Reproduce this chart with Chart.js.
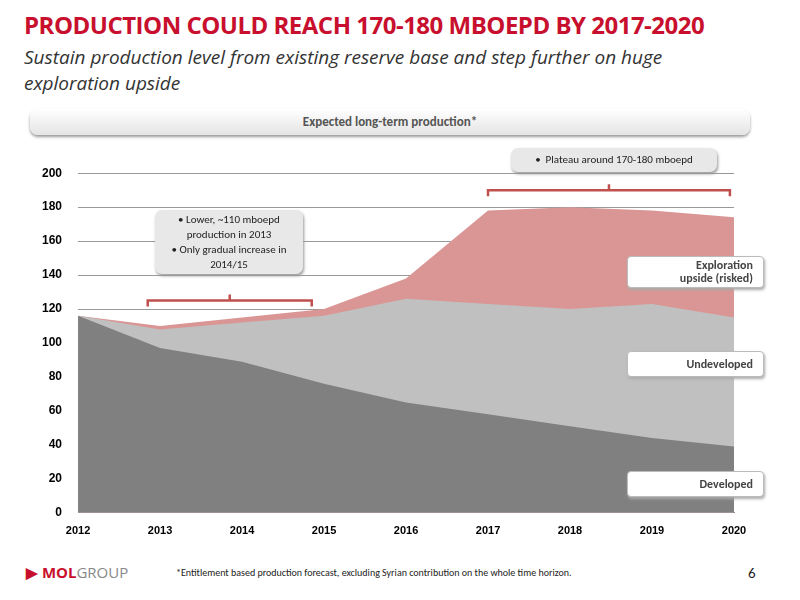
<!DOCTYPE html>
<html><head><meta charset="utf-8">
<script src="https://cdn.jsdelivr.net/npm/chart.js@4"></script>
<style>
body{margin:0;width:800px;height:600px;background:#fff;font-family:Calibri,Carlito,"Open Sans",sans-serif;position:relative;overflow:hidden}
.t1{position:absolute;left:24px;top:8px;font-size:24px;font-weight:bold;color:#c8102e;font-family:"Open Sans",sans-serif;letter-spacing:-0.5px}
.t2{position:absolute;left:24px;top:44px;font-size:19px;font-style:italic;color:#333;line-height:26px;width:720px;font-family:"Open Sans",sans-serif}
.band{position:absolute;left:30px;top:109px;width:720px;height:26px;border-radius:8px;background:linear-gradient(#fff,#e4e4e4);box-shadow:0 2px 3px #999;text-align:center;font-size:13px;font-weight:bold;color:#555;line-height:26px}
.box{position:absolute;background:#e8e8e8;border-radius:7px;box-shadow:1px 2px 3px #999;font-size:11px;color:#222;text-align:center;line-height:15px}
.lab{position:absolute;background:#fff;border:1px solid #bbb;border-radius:4px;box-shadow:1px 2px 3px #aaa;font-size:12px;font-weight:bold;color:#444;text-align:right;padding:2px 10px;line-height:13px}
#wrap{position:absolute;left:20px;top:150px;width:760px;height:392px}
.foot{position:absolute;left:176px;top:566px;font-size:10px;color:#222}
.logo{position:absolute;left:26px;top:562px;font-size:15px;font-weight:bold;color:#c8102e;font-family:"Open Sans",sans-serif}
.logo span{color:#888;font-weight:normal}
.pg{position:absolute;left:748px;top:564px;font-size:15px;color:#222}
</style></head><body>
<div class="t1">PRODUCTION COULD REACH 170-180 MBOEPD BY 2017-2020</div>
<div class="t2">Sustain production level from existing reserve base and step further on huge exploration upside</div>
<div class="band">Expected long-term production*</div>
<div id="wrap"><canvas id="c"></canvas></div>
<div class="box" style="left:511px;top:148px;width:206px;height:24px;line-height:24px">•&nbsp; Plateau around 170-180 mboepd</div>
<div class="box" style="left:155px;top:210px;width:148px;height:62px;padding-top:2px">• Lower, ~110 mboepd<br>production in 2013<br>• Only gradual increase in<br>2014/15</div>
<div class="lab" style="left:627px;top:256px;width:115px">Exploration<br>upside (risked)</div>
<div class="lab" style="left:627px;top:351px;width:115px;line-height:20px">Undeveloped</div>
<div class="lab" style="left:627px;top:471px;width:115px;line-height:20px">Developed</div>
<div class="logo">▶ MOL<span>GROUP</span></div>
<div class="foot">*Entitlement based production forecast, excluding Syrian contribution on the whole time horizon.</div>
<div class="pg">6</div>
<script>
const years = ['2012','2013','2014','2015','2016','2017','2018','2019','2020'];
const developed = [116, 97, 89, 76, 65, 58, 51, 44, 39];
const undeveloped = [0, 11, 23, 40, 61, 65, 69, 79, 76];
const exploration = [0, 2, 3, 4, 12, 55, 60, 55, 59];
const yTicks = [0, 20, 40, 60, 80, 100, 120, 140, 160, 180, 200];

function ds(label, data, color) {
	return { label: label, data: data, backgroundColor: color, borderWidth: 0, fill: true, pointRadius: 0, tension: 0 };
}

const bracketPlugin = {
	id: 'brackets',
	afterDraw(chart) {
		const { ctx, scales: { x, y } } = chart;
		function bracket(i0, i1, v) {
			const x0 = x.getPixelForValue(i0), x1 = x.getPixelForValue(i1), yy = y.getPixelForValue(v);
			const xm = (x0 + x1) / 2;
			ctx.save();
			ctx.strokeStyle = '#c0504d';
			ctx.lineWidth = 2.5;
			ctx.beginPath();
			ctx.moveTo(x0, yy + 6); ctx.lineTo(x0, yy); ctx.lineTo(x1, yy); ctx.lineTo(x1, yy + 6);
			ctx.moveTo(xm, yy); ctx.lineTo(xm, yy - 6);
			ctx.stroke();
			ctx.restore();
		}
		bracket(0.85, 2.85, 125);
		bracket(5.0, 7.95, 190);
	}
};

new Chart(document.getElementById('c'), {
	type: 'line',
	data: {
		labels: years,
		datasets: [
			ds('Developed', developed, '#808080'),
			ds('Undeveloped', undeveloped, '#c0c0c0'),
			ds('Exploration upside (risked)', exploration, '#d99694')
		]
	},
	options: {
		responsive: true,
		maintainAspectRatio: false,
		animation: false,
		layout: { padding: { left: 6, right: 46, top: 4, bottom: 0 } },
		plugins: { legend: { display: false }, tooltip: { enabled: false } },
		scales: {
			x: {
				offset: false,
				ticks: { color: '#000', font: { size: 11, weight: 'bold' }, maxRotation: 0, padding: 4 },
				grid: { display: false },
				border: { color: '#888' }
			},
			y: {
				stacked: true,
				min: 0,
				max: 200,
				afterBuildTicks: function (axis) { axis.ticks = yTicks.map(v => ({ value: v })); },
				ticks: { color: '#000', font: { size: 12, weight: 'bold' }, padding: 16 },
				grid: { color: '#999', drawTicks: false },
				border: { display: false }
			}
		}
	},
	plugins: [bracketPlugin]
});
</script>
</body></html>
